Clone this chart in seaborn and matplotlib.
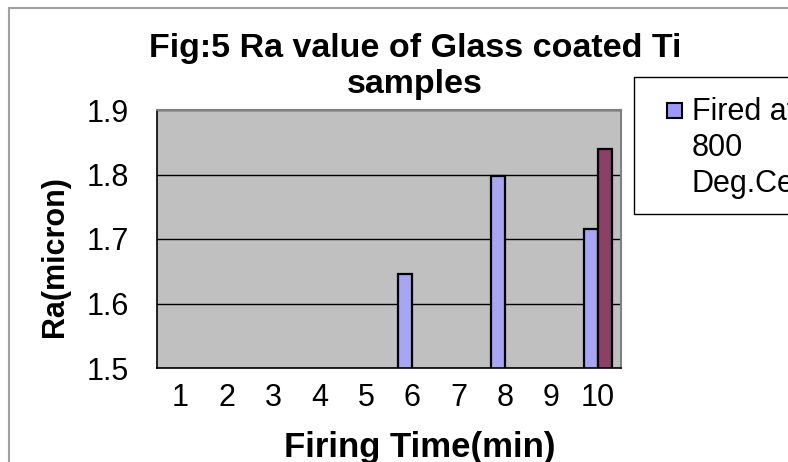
import numpy as np
import pandas as pd
import matplotlib
matplotlib.use('Agg')
import matplotlib.pyplot as plt
import seaborn as sns
from matplotlib.patches import Rectangle

# ---- data ----
categories = ['1', '2', '3', '4', '5', '6', '7', '8', '9', '10']
fired_800 = [np.nan, np.nan, np.nan, np.nan, np.nan, 1.645, np.nan, 1.797, np.nan, 1.715]
series_2 = [np.nan, np.nan, np.nan, np.nan, np.nan, np.nan, np.nan, np.nan, np.nan, 1.84]
series_names = ['Fired at 800 Deg.Celsius', 'Series2']
series_colors = ['#9999FF', '#993366']
legend_label = 'Fired at\n800\nDeg.Celsius'
y_ticks = [1.5, 1.6, 1.7, 1.8, 1.9]
title_text = 'Fig:5 Ra value of Glass coated Ti\nsamples'
x_label = 'Firing Time(min)'
y_label = 'Ra(micron)'

sns.set_style('white')
plt.rcParams['font.family'] = ['Liberation Sans', 'DejaVu Sans']
plt.rcParams['text.color'] = 'black'
plt.rcParams['axes.labelcolor'] = 'black'
plt.rcParams['xtick.color'] = 'black'
plt.rcParams['ytick.color'] = 'black'

df = pd.DataFrame({
    'time': categories * 2,
    'ra': fired_800 + series_2,
    'series': [series_names[0]] * len(categories) + [series_names[1]] * len(categories),
})

W, H = 788, 462
fig = plt.figure(figsize=(W / 100, H / 100), dpi=100)
ax = fig.add_axes([157 / W, 1 - 368 / H, 464 / W, 258 / H])

sns.barplot(data=df, x='time', y='ra', hue='series', order=categories,
            hue_order=series_names, palette=series_colors, width=0.6,
            edgecolor='black', linewidth=1.6, errorbar=None, ax=ax, legend=False)

ax.set_facecolor('#C0C0C0')
ax.set_ylim(1.5, 1.9)
ax.set_xlim(-0.5, len(categories) - 0.5)
ax.set_yticks(y_ticks)
ax.set_yticklabels([f'{v:.1f}' for v in y_ticks])
ax.yaxis.grid(True, color='black', linewidth=1)
ax.xaxis.grid(False)
ax.set_axisbelow(True)

for s in ['left', 'bottom']:
    ax.spines[s].set_color('black')
    ax.spines[s].set_linewidth(1.2)
for s in ['top', 'right']:
    ax.spines[s].set_color('#808080')
    ax.spines[s].set_linewidth(1.5)

ax.set_xticks(np.arange(-0.5, len(categories), 1), minor=True)
ax.tick_params(axis='x', which='major', length=0, labelsize=22, pad=11, labelcolor='black')
ax.tick_params(axis='x', which='minor', length=7, width=1, direction='out', color='black')
ax.tick_params(axis='y', which='major', length=7, width=1, direction='out', color='black',
               labelsize=22, pad=13, labelcolor='black')

ax.set_xlabel(x_label, fontsize=25, fontweight='bold', color='black')
ax.set_ylabel(y_label, fontsize=22, fontweight='bold', color='black')
ax.xaxis.set_label_coords((420 - 157) / 464, -0.246)
ax.yaxis.set_label_coords(-0.1875, 0.43)

fig.text(415 / W, 1 - 33 / H, title_text, ha='center', va='top', fontsize=24.5,
         fontweight='bold', linespacing=1.22, color='black')

# outer chart border
fig.add_artist(Rectangle((9 / W, -0.1), 1.2, 1 - 8 / H + 0.1, transform=fig.transFigure,
                         fill=False, edgecolor='#A0A0A0', linewidth=1.5, clip_on=False))

# legend (first entry visible, box runs off the right edge)
fig.add_artist(Rectangle((634 / W, 1 - 214 / H), 0.4, 137 / H, transform=fig.transFigure,
                         facecolor='white', edgecolor='black', linewidth=1, clip_on=False))
fig.add_artist(Rectangle((667 / W, 1 - 118 / H), 15 / W, 15 / H, transform=fig.transFigure,
                         facecolor=series_colors[0], edgecolor='black', linewidth=1.5))
fig.text(692 / W, 1 - 97 / H, legend_label, ha='left', va='top', fontsize=22,
         linespacing=1.27, color='black')

fig.savefig('out.png', dpi=100)
